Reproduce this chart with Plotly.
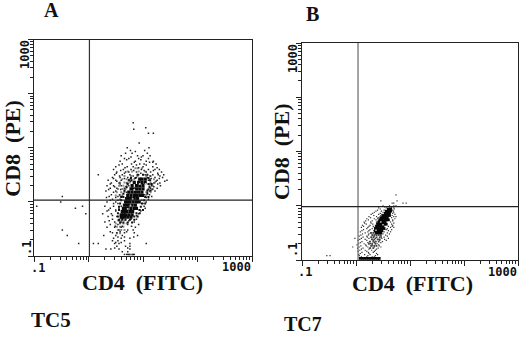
import plotly.graph_objects as go

# ---- Data: log10 fluorescence, stored row by row ----
a_sparse_cd8 = [1.46,1.37,1.34,1.27,1.09,1.00,.95,.90,.85,.80,.75,.70,.65,.60,.55,.50,.45,.40,.35,.30,.25,.20,.10,.05,0,
                -.08,-.12,-.17,-.22,-.27,-.32,-.37,-.42,-.47,-.52,-.57,-.62,-.67,-.72,-.77,-.82,-.87,-.92,-.97]
a_sparse_cd4 = [[.82],[1.05],[.83],[1.10,1.19],[.93],[.71,1.11],[.77,1.03],[.68,.80,1.08],[.60,.90,1.00,1.13],
    [.66,.74,.92,1.10],[.58,.86,1.06,1.19],[.62,.79,.94,1.02,1.24],
    [.50,.71,.82,1.00,1.18],[.46,.64,.78,.97,1.10,1.22,1.30],
    [.52,.68,.74,.88,1.06,1.14,1.34],
    [.18,.48,.62,.76,.92,1.04,1.18,1.28,1.38],
    [.44,.58,.72,.88,1.08,1.22,1.36],
    [.36,.50,.60,.74,1.10,1.26,1.44],[.42,.56,.70,1.20,1.31],
    [.34,.46,.60,.74,1.16,1.32],[.40,.52,.66,1.14,1.26],
    [.32,.50,.66,1.12,1.22],[-.48,.38,.54,.62,1.16],[.44,.58,1.10],
    [-.51,.34,.50,1.06],[-.95,-.11,.30,.46,.60,1.02],[-.24,.40,.56,1.04],
    [.34,.50,.96],[-.05,.26,.42,.92],[.36,.52,.90],[.44,.62,.78,.88],
    [.30,.48,.60,.84],[.40,.54,.72,.92],[.34,.48,.60,.86],
    [-.48,.56,.72,.82],[.44,.52,.66,.84],[-.39,.28,.50,.62,.90],[.46,.60,.76],
    [.44,.54,.66],[-.18,.09,.18,.48,.56,.76,1.06],[.52,.68,.76],[.32,.41,.56,.76],[.62,.72],
    [.66,.70,.72,.74,.76,.80,.82,.84]]

a_offrow_cd8 = [.93,.83,.78,.73,.68,.63,.58,.53,.48,.43,.38,.33,.28,.23,.18,.13,.08,.03,-.03,-.15,-.25,-.35,-.45,-.55,-.65,-.75,-.85]
a_offrow_cd4 = [[.86],[.78,.97],[.70,.96],[.84,1.12,1.18],[.56,.88,1.06],[.67,.92,1.26],[.59,.83,1.02,1.19],[.51,.66,.96,1.27],
    [.57,.82,1.13,1.31],[.46,.66,1.15,1.30],[.52,.77,1.24,1.40],[.40,.58,1.13,1.27],[.48,.69,1.20],[.37,.59,1.10,1.17],[.46,.70,1.08],
    [.42,.57,1.03,1.12],[.33,.50,1.06],[.40,.54,.98],[.46,.54,1.00],[.37,.50,.93],[.44,.88],[.38,.56,.74],[.49,.62,.79],[.40,.58,.70],
    [.54,.66,.83],[.50,.60],[.48,.72]]

a_gray_cd8 = [.62,.56,.48,.42,.36,.30,.24,.18,.12,-.34,-.40,-.46,-.52,-.58]
a_gray_cd4 = [[.86,.90,.98],[.72,.80,.92,1.04],[.66,.78,.90,1.06,1.14],[.62,.70,.76,.84,1.06,1.12,1.20],
    [.58,.66,.72,.76,1.14,1.22],[.56,.64,.70,1.12,1.18],[.54,.62,.68,1.10,1.18],[.52,.60,.66,1.06,1.14],[.50,.58,.62,1.06],
    [.54,.60,.66],[.50,.58,.64,.70],[.52,.58,.64],[.54,.60,.66],[.52,.58]]

a_halo_cd8 = [.50,.44,.40,.33,.27,.21,.15,.09,.03,-.03,-.09,-.15,-.21,-.27,-.33,-.38]
a_halo_cd4 = [[.90,1.00,1.08],[.78,.86,1.10],[.74,.79,1.13],[.72,1.10,1.16],[.70,1.12],[.66,1.08,1.14],[.64,1.08],[.60,.64,1.04,1.10],
    [.60,1.02],[.58,.98,1.04],[.56,.96],[.56,.94,1.00],[.54,.88,.94],[.54,.84,.90],[.56,.62,.68,.76,.84],[.58,.64,.72,.80]]

a_core_cd8 = [.42,.36,.30,.24,.18,.12,.06,0,-.06,-.12,-.18,-.24,-.28]
a_core_cd4 = [[.94,.98,1.04],[.84,.92,.98,1.04],[.80,.88,.94,1.00],[.78,.82,.88,.94,1.00],
    [.74,.80,.86,.92,.98],[.72,.78,.84,.88,.94,.99],[.70,.74,.78,.84,.90],[.68,.72,.76,.82,.88,.93],
    [.66,.70,.74,.80,.86],[.64,.68,.72,.78,.84,.88],[.62,.66,.70,.76,.81],[.60,.64,.68,.74,.80],[.60,.62,.66,.72,.78]]

a_speck_cd4 = [.84,.94,.81,1.05,.72,.77,.99]
a_speck_cd8 = [.22,.33,.05,.33,-.13,-.07,.04]

b_sparse_cd8 = [.20,.09,.05,0,-.04,-.08,-.12,-.16,-.20,-.24,-.28,-.32,-.36,-.40,-.44,-.48,-.52,-.56,-.60,-.64,-.68,-.72,-.76,-.80,-.84,-.88,-.92]
b_sparse_cd4 = [[.74],[.46,.76],[.67,.70,.87,.93],[.50,.62,.70,.74],[.42,.56,.66,.70],[.40,.52,.64,.68],
    [.34,.50,.70],[.28,.42,.48,.72],[.24,.38,.70,.74],[.20,.34,.40,.72],[.18,.30,.42,.68],
    [.16,.28,.38,.70],[.12,.26,.36,.68],[.10,.22,.34,.64,.70],[.14,.26,.56,.66],
    [.08,.22,.34,.52,.64],[.12,.24,.36,.50,.62],[.06,.20,.34,.46,.58],
    [-.02,.10,.24,.36,.48,.60],[.04,.20,.32,.44,.56],[.08,.22,.34,.46],
    [.02,.18,.30,.42],[-.06,.06,.22,.34,.46],[.10,.24,.38],[.04,.20,.34],
    [.08,.24,.38],[-.54,-.48,.06,.22,.36]]

b_offrow_cd8 = [-.02,-.06,-.10,-.14,-.18,-.22,-.26,-.30,-.34,-.38,-.42,-.46,-.50,-.54,-.58,-.62,-.66,-.70,-.74,-.78,-.82,-.86,-.90,-.94]
b_offrow_cd4 = [[.53,.63],[.45,.71],[.37,.47,.69],[.31,.45,.68],[.33,.46,.67],[.27,.41,.66],[.23,.37,.44,.68],[.15,.27,.38,.64],
    [.19,.31,.39,.66],[.14,.24,.32,.60,.67],[.20,.30,.37,.58],[.11,.24,.33,.60],[.17,.27,.37,.58],[.09,.23,.31,.42,.55],
    [.13,.21,.33,.47,.52],[.07,.17,.29,.41,.53],[.11,.25,.37,.49],[.05,.15,.27,.39],[.09,.19,.31,.43],[.03,.13,.27,.41],
    [.07,.17,.29,.36],[.11,.23,.32],[.05,.16,.26,.40],[.10,.20,.30,.34]]

b_mid_cd8 = [-.50,-.54,-.58,-.62,-.66,-.70,-.74,-.78]
b_mid_cd4 = [[.28,.32,.36,.40],[.30,.34,.38,.42,.46],[.28,.32,.38,.44],[.30,.34,.40,.44],[.26,.32,.36,.42],[.24,.30,.36],[.28,.34,.38],[.26,.32]]

b_core_cd8 = [-.06,-.10,-.14,-.18,-.22,-.26,-.30,-.34,-.38,-.42,-.46,-.50,-.97]
b_core_cd4 = [[.60,.64],[.56,.60,.64],[.54,.58,.62],[.50,.54,.58,.62],[.46,.50,.54,.58],[.44,.48,.52,.56,.60],[.42,.46,.50,.54],
    [.40,.44,.48,.52,.56],[.38,.42,.46,.50],[.36,.40,.44,.48,.52],[.36,.40,.44,.48],[.38,.42,.46],
    [.08,.12,.16,.20,.24,.28,.32,.36,.40,.43]]

b_speck_cd4 = [.46,.37,.50]
b_speck_cd8 = [-.30,-.45,-.35]

gate_a = (1.04, 1.08)
gate_b = (1.09, 0.96)
tick_labels = [".1", "1000"]
panel_labels = ["A", "B"]
sample_labels = ["TC5", "TC7"]
axis_x_title = "CD4  (FITC)"
axis_y_title = "CD8  (PE)"

W, H = 520, 337


def expand(levels, rows):
    xs, ys = [], []
    for lv, row in zip(levels, rows):
        for v in row:
            xs.append(10 ** v)
            ys.append(10 ** lv)
    return xs, ys


def draw(fig, xs, ys, size, color, ax):
    fig.add_trace(go.Scatter(x=xs, y=ys, mode="markers", xaxis=ax[0], yaxis=ax[1], showlegend=False,
                             marker=dict(size=size, color=color, symbol="square", line=dict(width=0)),
                             hoverinfo="skip"))


def pts(fig, levels, rows, size, color, ax):
    draw(fig, *expand(levels, rows), size, color, ax)


decades = [.1, 1, 10, 100, 1000]
minor_ticks = [m * 10 ** e for e in (-1, 0, 1, 2) for m in range(2, 10)]


def gate(fig, g, ax, colv, colh):
    fig.add_trace(go.Scatter(x=[g[0], g[0]], y=[.1, 1000], mode="lines", xaxis=ax[0], yaxis=ax[1], showlegend=False,
                             line=dict(color=colv, width=1.2), hoverinfo="skip"))
    fig.add_trace(go.Scatter(x=[.1, 1000], y=[g[1], g[1]], mode="lines", xaxis=ax[0], yaxis=ax[1], showlegend=False,
                             line=dict(color=colh, width=1.2), hoverinfo="skip"))


fig = go.Figure()
A, B = ("x", "y"), ("x2", "y2")
pts(fig, a_gray_cd8, a_gray_cd4, 2, "#8a8a8a", A)
pts(fig, a_sparse_cd8, a_sparse_cd4, 1.5, "#222222", A)
pts(fig, a_offrow_cd8, a_offrow_cd4, 1.5, "#222222", A)
pts(fig, a_halo_cd8, a_halo_cd4, 2, "#111111", A)
pts(fig, a_core_cd8, a_core_cd4, 3.2, "#0a0a0a", A)
draw(fig, [10 ** v for v in a_speck_cd4], [10 ** v for v in a_speck_cd8], 1.8, "#c4c4c4", A)
gate(fig, gate_a, A, "#333333", "#222222")
pts(fig, b_sparse_cd8, b_sparse_cd4, 1.2, "#333333", B)
pts(fig, b_offrow_cd8, b_offrow_cd4, 1.2, "#333333", B)
pts(fig, b_mid_cd8, b_mid_cd4, 1.8, "#444444", B)
pts(fig, b_core_cd8, b_core_cd4, 2.8, "#050505", B)
draw(fig, [10 ** v for v in b_speck_cd4], [10 ** v for v in b_speck_cd8], 1.5, "#c4c4c4", B)
gate(fig, gate_b, B, "#666666", "#222222")


def axis(domain, anchor):
    return dict(type="log", range=[-1, 3], domain=domain, anchor=anchor, tickmode="array", tickvals=decades,
                ticktext=[""] * len(decades), ticks="outside", ticklen=5, tickwidth=1, tickcolor="#222",
                minor=dict(tickmode="array", tickvals=minor_ticks, ticks="outside", ticklen=3, tickwidth=1, tickcolor="#222"),
                showgrid=False, zeroline=False, showline=True, linecolor="#222", linewidth=1, mirror=True)


def dx(l, r):
    return [l / W, r / W]


def dy(t, b):
    return [1 - b / H, 1 - t / H]


SERIF = "Liberation Serif"
MONO = "DejaVu Sans Mono"


def txt(s, x, y, size, fam=SERIF, ang=0):
    return dict(text=s, x=x / W, y=1 - y / H, xref="paper", yref="paper", showarrow=False, textangle=ang,
                xanchor="center", yanchor="middle", font=dict(family=fam, size=size, color="#111111"))


ann = [
    txt(f"<b>{panel_labels[0]}</b>", 51, 10, 20), txt(f"<b>{panel_labels[1]}</b>", 312, 14, 20),
    txt(f"<b>{axis_x_title}</b>", 142, 282, 22), txt(f"<b>{axis_x_title}</b>", 412, 283, 22),
    txt(f"<b>{axis_y_title}</b>", 11.7, 148, 22, ang=-90), txt(f"<b>{axis_y_title}</b>", 281, 152, 22, ang=-90),
    txt(f"<b>{sample_labels[0]}</b>", 51, 320, 21), txt(f"<b>{sample_labels[1]}</b>", 303, 324, 20),
    txt(f"<b>{tick_labels[0]}</b>", 38, 268, 12, MONO), txt(f"<b>{tick_labels[1]}</b>", 236, 267, 12, MONO),
    txt(f"<b>{tick_labels[1]}</b>", 25, 55, 12, MONO, -90), txt(f"<b>{tick_labels[0]}</b>", 27, 248, 12, MONO, -90),
    txt(f"<b>{tick_labels[0]}</b>", 305, 272, 12, MONO), txt(f"<b>{tick_labels[1]}</b>", 502, 272, 12, MONO),
    txt(f"<b>{tick_labels[1]}</b>", 293, 59, 12, MONO, -90), txt(f"<b>{tick_labels[0]}</b>", 293, 250, 12, MONO, -90),
]

fig.update_layout(
    width=W, height=H, margin=dict(l=0, r=0, t=0, b=0), autosize=False, paper_bgcolor="white", plot_bgcolor="white",
    showlegend=False, annotations=ann,
    xaxis=axis(dx(34, 252), "y"), yaxis=axis(dy(39.5, 256), "x"),
    xaxis2=axis(dx(302, 518), "y2"), yaxis2=axis(dy(43, 260), "x2"),
)
fig.write_html("out.html", post_script="document.body.style.margin='0';", config=dict(displayModeBar=False))
